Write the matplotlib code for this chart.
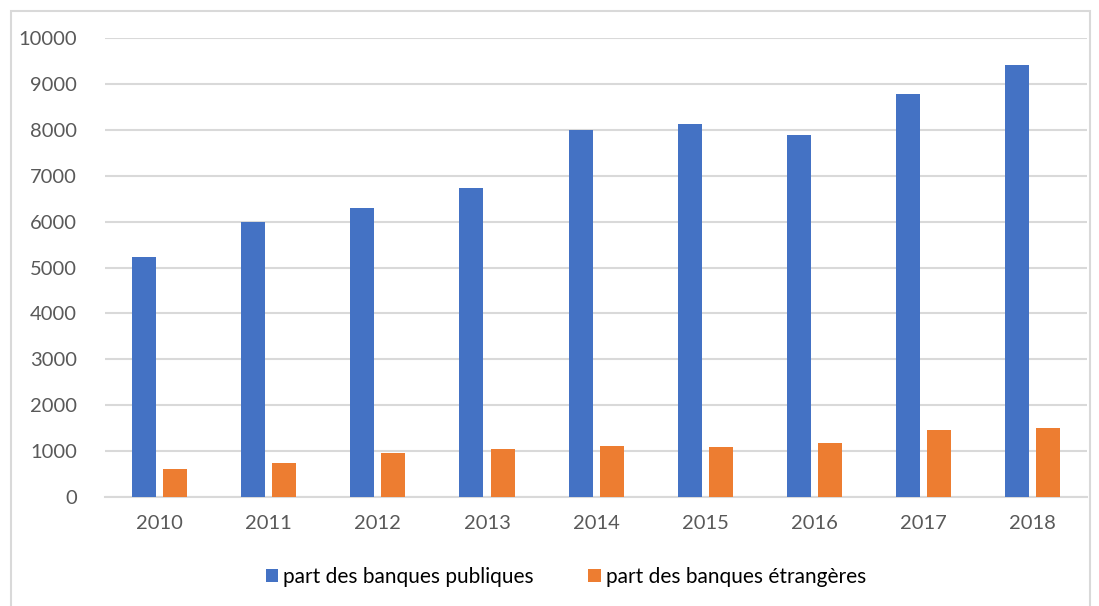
import numpy as np
import matplotlib.pyplot as plt
from matplotlib.patches import Rectangle

years = ['2010', '2011', '2012', '2013', '2014', '2015', '2016', '2017', '2018']
publiques = [5220, 6000, 6300, 6740, 8000, 8130, 7900, 8780, 9410]
etrangeres = [600, 740, 950, 1050, 1120, 1080, 1180, 1450, 1500]

plt.rcParams['font.family'] = ['Lato', 'DejaVu Sans']

fig = plt.figure(figsize=(10.99, 6.06), dpi=100)
ax = fig.add_axes([0.0955, 0.180, 0.894, 0.757])

# outer chart border
fig.patches.append(Rectangle((0.010, -0.05), 0.982, 1.032, transform=fig.transFigure,
                             fill=False, edgecolor='#d9d9d9', linewidth=1.5))

x = np.arange(len(years))
w = 0.22
ax.bar(x - 0.143, publiques, w, color='#4472c4', label='part des banques publiques', zorder=3)
ax.bar(x + 0.143, etrangeres, w, color='#ed7d31', label='part des banques étrangères', zorder=3)

ax.set_xlim(-0.5, len(years) - 0.5)
ax.set_ylim(0, 10000)
ax.set_yticks(range(0, 10001, 1000))
ax.set_xticks(x)
ax.set_xticklabels(years)
ax.grid(axis='y', color='#d9d9d9', linewidth=1.5, zorder=0)
for s in ['top', 'right', 'left']:
    ax.spines[s].set_visible(False)
ax.spines['bottom'].set_color('#d9d9d9')
ax.spines['bottom'].set_linewidth(1.5)
ax.tick_params(axis='both', length=0, labelsize=14.5, colors='#595959')
ax.tick_params(axis='x', pad=13)
ax.tick_params(axis='y', pad=20)

fig.legend(loc='center', bbox_to_anchor=(0.515, 0.048), ncol=2, frameon=False,
           fontsize=15, handlelength=0.6, handleheight=0.6, handletextpad=0.25,
           columnspacing=2.6)

fig.savefig('out.png', dpi=100)
